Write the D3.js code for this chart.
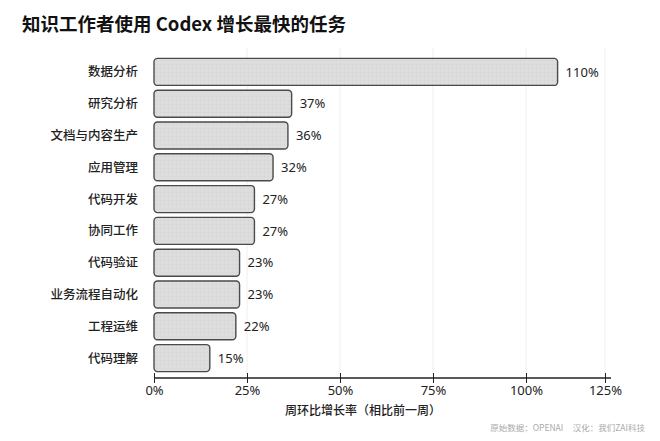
<!DOCTYPE html>
<html><head><meta charset="utf-8">
<script src="https://cdn.jsdelivr.net/npm/d3@7"></script>
<style>
html,body{margin:0;padding:0;background:#fff;}
svg{display:block;font-family:"Noto Sans CJK SC","Noto Sans",sans-serif;}
</style></head>
<body>
<svg id="c" width="660" height="441"></svg>
<script>
const categories = ["数据分析","研究分析","文档与内容生产","应用管理","代码开发","协同工作","代码验证","业务流程自动化","工程运维","代码理解"];
const values = [110,37,36,32,27,27,23,23,22,15];
const tickValues = [0,25,50,75,100,125];
const title = "知识工作者使用 Codex 增长最快的任务";
const xTitle = "周环比增长率（相比前一周）";
const source = "原始数据：OPENAI     汉化：我们ZAI科技";

const svg = d3.select("#c");
const defs = svg.append("defs");
const pat = defs.append("pattern").attr("id","dots").attr("width",4).attr("height",4).attr("patternUnits","userSpaceOnUse");
pat.append("rect").attr("width",4).attr("height",4).attr("fill","#dcdcdc");
pat.append("rect").attr("x",0).attr("y",0).attr("width",1).attr("height",1).attr("fill","#d2d2d2");
pat.append("rect").attr("x",2).attr("y",2).attr("width",1).attr("height",1).attr("fill","#e3e3e3");

const x = d3.scaleLinear().domain([0,100,125]).range([154,526,605]);
const y = d3.scaleBand().domain(categories).range([56,374]).paddingInner(0.15).paddingOuter(0.075);

// gridlines
svg.append("g").selectAll("line").data(tickValues.slice(1)).join("line")
  .attr("x1",d=>x(d)).attr("x2",d=>x(d)).attr("y1",48).attr("y2",378)
  .attr("stroke","#f0f0f0").attr("stroke-width",1);

// title
svg.append("text").attr("x",22).attr("y",31).text(title)
  .attr("font-size",18.5).attr("font-weight",700).attr("fill","#111");

// bars
svg.append("g").selectAll("rect").data(categories).join("rect")
  .attr("x",x(0)).attr("y",d=>y(d))
  .attr("width",(d,i)=>x(values[i])-x(0)).attr("height",y.bandwidth())
  .attr("rx",3.5).attr("ry",3.5)
  .attr("fill","url(#dots)").attr("stroke","#4a4a4a").attr("stroke-width",1.4);

// value labels
svg.append("g").selectAll("text").data(categories).join("text")
  .attr("x",(d,i)=>x(values[i])+8).attr("y",d=>y(d)+y.bandwidth()/2)
  .attr("dy","0.36em").attr("font-size",13).attr("fill","#222")
  .attr("font-family","'Noto Sans', sans-serif")
  .text((d,i)=>values[i]+"%");

// category labels
svg.append("g").selectAll("text").data(categories).join("text")
  .attr("x",138).attr("y",d=>y(d)+y.bandwidth()/2)
  .attr("dy","0.36em").attr("text-anchor","end").attr("font-size",12.5).attr("fill","#222")
  .attr("font-weight",500)
  .text(d=>d);

// x axis
const ax = svg.append("g").attr("transform","translate(0,378)")
  .call(d3.axisBottom(x).tickValues(tickValues).tickFormat(d=>d+"%").tickSize(5).tickSizeOuter(0));
ax.select(".domain").attr("stroke","#222").attr("stroke-width",1.3).attr("d","M154,0H611");
ax.selectAll(".tick line").attr("stroke","#222").attr("stroke-width",1).attr("y1",-5).attr("y2",5);
ax.selectAll(".tick text").attr("font-size",13).attr("fill","#222").attr("y",8).attr("dy","0.71em")
  .attr("font-family","'Noto Sans', sans-serif");

svg.append("text").attr("x",363).attr("y",415).attr("text-anchor","middle")
  .attr("font-size",12).attr("font-weight",500).attr("fill","#222").text(xTitle);

svg.append("text").attr("x",645).attr("y",431).attr("text-anchor","end")
  .attr("font-size",8.5).attr("fill","#aaa").attr("xml:space","preserve").style("white-space","pre").text(source);
</script>
</body></html>
